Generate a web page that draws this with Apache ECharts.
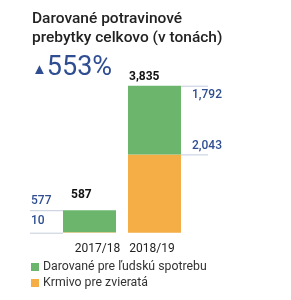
<!DOCTYPE html>
<html>
<head>
<meta charset="utf-8">
<script src="https://cdn.jsdelivr.net/npm/echarts@6/dist/echarts.min.js"></script>
<style>
  html, body { margin: 0; padding: 0; background: #fff; }
  #chart { width: 291px; height: 300px; }
</style>
</head>
<body>
<div id="chart"></div>
<script>
// data (tons)
const categories = ['2017/18', '2018/19']
const humanFood = [577, 1792]
const animalFeed = [10, 2043]
const totals = [587, 3835]
const growth = '553%'
const seriesNames = ['Darované pre ľudskú spotrebu', 'Krmivo pre zvieratá']

const fmt = v => v.toLocaleString('en-US')
const blue = '#2f4e92'
const rule = '#c3ccdb'
const font = 'Roboto, "Noto Sans", sans-serif'

const chart = echarts.init(document.getElementById('chart'))

// annotation lines + labels next to each bar, placed through the axis scales
function renderNotes (params, api) {
  const i = params.dataIndex
  const half = 26.5
  const top = api.coord([i, totals[i]])
  const base = api.coord([i, 0])
  const mid = api.coord([i, animalFeed[i]])
  const children = []
  const line = (x1, x2, y) => ({
    type: 'line',
    shape: { x1: x1, y1: y + 0.5, x2: x2, y2: y + 0.5 },
    style: { stroke: rule, lineWidth: 1 }
  })
  const txt = (x, y, s, color, weight) => ({
    type: 'text',
    style: {
      x: x, y: y, text: s, fill: color, font: weight + ' 12px ' + font,
      textAlign: 'left', textVerticalAlign: 'middle'
    }
  })
  if (i === 0) {
    const x2 = top[0] - half
    const x1 = x2 - 33
    children.push(line(x1, x2, top[1]))
    children.push(line(x1, x2, base[1]))
    children.push(txt(x1 + 1, top[1] - 9, fmt(humanFood[i]), blue, 500))
    children.push(txt(x1 + 1, top[1] + 11, fmt(animalFeed[i]), blue, 500))
    children.push(txt(x2 + 8, top[1] - 15, fmt(totals[i]), '#111', 'bold'))
  } else {
    const x1 = top[0] + half
    const x2 = x1 + 27
    children.push(line(x1, x2, top[1]))
    children.push(line(x1, x2, mid[1]))
    children.push(txt(x1 + 11, top[1] + 9, fmt(humanFood[i]), blue, 500))
    children.push(txt(x1 + 11, mid[1] - 8, fmt(animalFeed[i]), blue, 500))
    children.push(txt(top[0] - half + 1, top[1] - 9, fmt(totals[i]), '#111', 'bold'))
  }
  return { type: 'group', children: children }
}

const option = {
  animation: false,
  textStyle: { fontFamily: font },
  title: [
    {
      text: 'Darované potravinové\nprebytky celkovo (v tonách)',
      left: 27,
      top: 5,
      textStyle: { fontSize: 15.5, fontWeight: 500, color: '#222', lineHeight: 19, fontFamily: font }
    },
    {
      text: '{t|▲}{n|' + growth + '}',
      left: 27,
      top: 50,
      textStyle: {
        rich: {
          t: { fontSize: 15, fontWeight: 'normal', color: blue, padding: [4, 0, 0, 0], fontFamily: font },
          n: { fontSize: 27, fontWeight: 'normal', color: blue, fontFamily: font }
        }
      }
    }
  ],
  legend: {
    orient: 'vertical',
    left: 31,
    top: 261,
    padding: 0,
    itemWidth: 8,
    itemHeight: 8,
    itemGap: 4,
    icon: 'rect',
    data: seriesNames,
    textStyle: { fontSize: 12.3, color: '#333', padding: [0, 0, 0, -1] }
  },
  grid: {
    left: 57,
    right: 104,
    top: 79.4,
    bottom: 67.3
  },
  xAxis: {
    type: 'category',
    data: categories,
    axisLine: { show: false },
    axisTick: { show: false },
    axisLabel: {
      interval: 0,
      hideOverlap: false,
      margin: 10,
      fontSize: 12,
      color: '#222',
      formatter: function (v, idx) {
        return idx === 0 ? '{a|' + v + '}' : '{b|' + v + '}'
      },
      rich: {
        a: { fontSize: 12, color: '#222', padding: [0, 0, 0, 16] },
        b: { fontSize: 12, color: '#222', padding: [0, 5, 0, 0] }
      }
    }
  },
  yAxis: {
    type: 'value',
    min: 0,
    max: 4000,
    show: false,
    splitLine: { show: false }
  },
  series: [
    {
      name: seriesNames[1],
      type: 'bar',
      stack: 'total',
      barWidth: 53,
      itemStyle: { color: '#f5ad45' },
      data: animalFeed
    },
    {
      name: seriesNames[0],
      type: 'bar',
      stack: 'total',
      barWidth: 53,
      itemStyle: { color: '#6bb66c' },
      data: humanFood
    },
    {
      type: 'custom',
      coordinateSystem: 'cartesian2d',
      renderItem: renderNotes,
      silent: true,
      z: 10,
      data: totals.map((v, i) => [i, v])
    }
  ]
}
chart.setOption(option)
</script>
</body>
</html>
